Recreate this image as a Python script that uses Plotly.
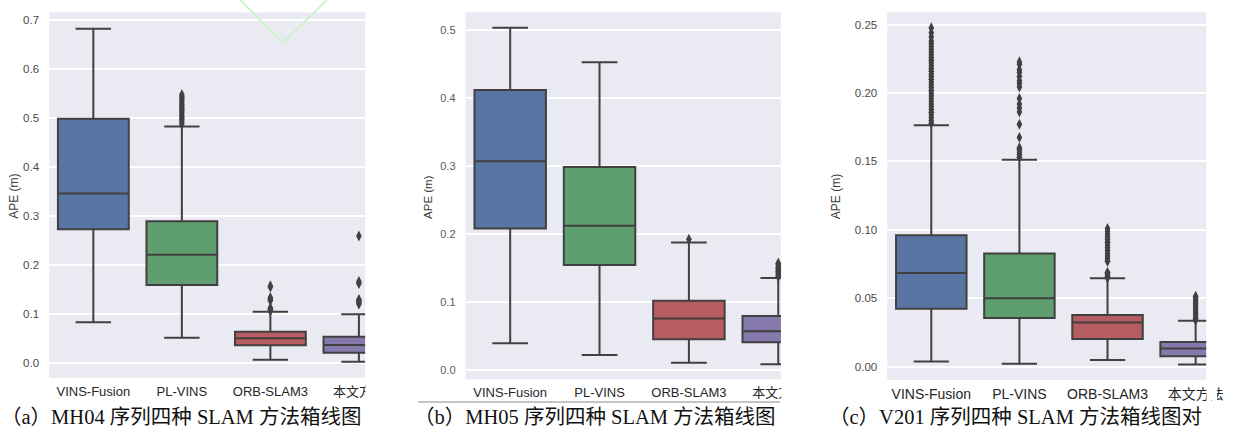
import plotly.graph_objects as go

W, H = 1240, 439

categories = ["VINS-Fusion", "PL-VINS", "ORB-SLAM3", "本文方法"]
colors = ["#5875a4", "#5f9e6e", "#b55d60", "#857aab"]
line_color = "#404040"

# ---------- (a) MH04 ----------
a_q1 = [0.273, 0.159, 0.0355, 0.0204]
a_med = [0.346, 0.2206, 0.0498, 0.036]
a_q3 = [0.499, 0.289, 0.0633, 0.053]
a_lo = [0.0825, 0.051, 0.006, 0.002]
a_hi = [0.683, 0.483, 0.104, 0.0988]
a_out = [
    [],
    [0.488, 0.492, 0.496, 0.500, 0.504, 0.508, 0.512, 0.516, 0.520, 0.524,
     0.528, 0.532, 0.536, 0.540, 0.544, 0.548],
    [0.106, 0.108, 0.110, 0.112, 0.127, 0.130, 0.133, 0.155, 0.157],
    [0.120, 0.122, 0.125, 0.127, 0.129, 0.162, 0.166, 0.259],
]

# ---------- (b) MH05 ----------
b_q1 = [0.208, 0.1544, 0.0453, 0.0408]
b_med = [0.3068, 0.212, 0.0757, 0.057]
b_q3 = [0.4115, 0.2984, 0.1018, 0.0792]
b_lo = [0.0394, 0.0221, 0.0108, 0.0084]
b_hi = [0.503, 0.4524, 0.1873, 0.1352]
b_out = [
    [],
    [],
    [0.192],
    [0.137, 0.139, 0.141, 0.143, 0.145, 0.147, 0.149, 0.151, 0.153, 0.155, 0.157],
]

# ---------- (c) V201 ----------
c_q1 = [0.0424, 0.0356, 0.0202, 0.0076]
c_med = [0.0684, 0.050, 0.0324, 0.0134]
c_q3 = [0.096, 0.0828, 0.0378, 0.018]
c_lo = [0.0039, 0.0022, 0.0049, 0.0017]
c_hi = [0.1765, 0.1512, 0.0646, 0.0336]
c_out = [
    [0.178, 0.180, 0.182, 0.184, 0.186, 0.188, 0.190, 0.192, 0.194, 0.196,
     0.198, 0.200, 0.202, 0.204, 0.206, 0.208, 0.210, 0.212, 0.214, 0.216,
     0.218, 0.220, 0.222, 0.224, 0.226, 0.228, 0.230, 0.232, 0.234, 0.236,
     0.238, 0.241, 0.244, 0.2476],
    [0.153, 0.155, 0.157, 0.159, 0.160, 0.1675, 0.1772, 0.1862, 0.189, 0.192,
     0.196, 0.2045, 0.207, 0.209, 0.212, 0.215, 0.217, 0.221, 0.2227],
    [0.065, 0.066, 0.067, 0.068, 0.069, 0.077, 0.079, 0.081, 0.083, 0.085,
     0.087, 0.089, 0.091, 0.093, 0.095, 0.097, 0.099, 0.101],
    [0.0341, 0.0355, 0.037, 0.0385, 0.040, 0.0415, 0.043, 0.0445, 0.046,
     0.0475, 0.049, 0.0505, 0.0515],
]

captions = ["（a）MH04 序列四种 SLAM 方法箱线图",
            "（b）MH05 序列四种 SLAM 方法箱线图",
            "（c）V201 序列四种 SLAM 方法箱线图对"]
y_title = "APE (m)"

panels = [
    dict(q1=a_q1, med=a_med, q3=a_q3, lo=a_lo, hi=a_hi, out=a_out,
         px=(50, 372), py=(12.3, 378), yr=[-0.0313, 0.7164], dtick=0.1, fmt=".1f",
         xr=[-0.5, 3.07], title_xy=(14, 196), cap_x=184.5, tickcol="#4a4a4a", tfs=11.5, xfs=13,
         ytfs=12),
    dict(q1=b_q1, med=b_med, q3=b_q3, lo=b_lo, hi=b_hi, out=b_out,
         px=(474.3, 795.7), py=(12.3, 379.3), yr=[-0.0137, 0.5257], dtick=0.1, fmt=".1f",
         xr=[-0.5, 3.03], title_xy=(436, 197), cap_x=606.5, tickcol="#5a5a5a", tfs=11, xfs=13,
         ytfs=11.5),
    dict(q1=c_q1, med=c_med, q3=c_q3, lo=c_lo, hi=c_hi, out=c_out,
         px=(904, 1229), py=(12.3, 380), yr=[-0.0097, 0.259], dtick=0.05, fmt=".2f",
         xr=[-0.5, 3.12], title_xy=(852, 197), cap_x=1035, tickcol="#4a4a4a", tfs=11.5, xfs=14,
         ytfs=12),
]

fig = go.Figure()
layout = dict(
    width=W, height=H, margin=dict(l=0, r=0, t=0, b=0),
    paper_bgcolor="white", plot_bgcolor="#eaeaf2", showlegend=False, boxmode="overlay",
    font=dict(family="Liberation Sans, Arial, Noto Sans CJK SC", color="#262626"),
)
annotations = []
shapes = []

for i, p in enumerate(panels):
    sfx = "" if i == 0 else str(i + 1)
    xa, ya = "x" + sfx, "y" + sfx
    for j, cat in enumerate(categories):
        fig.add_trace(go.Box(
            x=[cat], q1=[p["q1"][j]], median=[p["med"][j]], q3=[p["q3"][j]],
            lowerfence=[p["lo"][j]], upperfence=[p["hi"][j]],
            width=0.8, whiskerwidth=0.5, boxpoints=False,
            fillcolor=colors[j], line=dict(color=line_color, width=2),
            xaxis=xa, yaxis=ya, hoverinfo="skip",
        ))
        if p["out"][j]:
            fig.add_trace(go.Scatter(
                x=[cat] * len(p["out"][j]), y=p["out"][j], mode="markers",
                marker=dict(symbol="diamond-tall", size=8, color=line_color,
                            line=dict(width=0)),
                xaxis=xa, yaxis=ya, hoverinfo="skip", cliponaxis=False,
            ))
    x0, x1 = p["px"]
    y0, y1 = p["py"]
    layout["xaxis" + sfx] = dict(
        domain=[x0 / W, x1 / W], anchor=ya, type="category",
        categoryorder="array", categoryarray=categories, range=p["xr"],
        showgrid=False, zeroline=False, showline=False, ticks="",
        tickfont=dict(size=p["xfs"], color="#262626"), ticklabelstandoff=4,
        ticklabeloverflow="allow",
    )
    layout["yaxis" + sfx] = dict(
        domain=[1 - y1 / H, 1 - y0 / H], anchor=xa, range=p["yr"],
        dtick=p["dtick"], tick0=0, tickformat=p["fmt"],
        showgrid=True, gridcolor="white", gridwidth=1.5, zeroline=False,
        showline=False, ticks="", ticklabelstandoff=9,
        tickfont=dict(size=p["tfs"], color=p["tickcol"]),
    )
    # crop mask right of plot (tick label overflow)
    shapes.append(dict(type="rect", xref="paper", yref="paper",
                       x0=(x1 + 0.3) / W, x1=min(x1 + 30, W) / W,
                       y0=1 - 400 / H, y1=1 - (y1 - 2) / H,
                       fillcolor="white", line=dict(width=0), layer="above"))
    tx, ty = p["title_xy"]
    annotations.append(dict(x=tx / W, y=1 - ty / H, xref="paper", yref="paper",
                            text=y_title, textangle=-90, showarrow=False,
                            font=dict(size=p["ytfs"], color="#3a3a3a"),
                            xanchor="center", yanchor="middle"))
    annotations.append(dict(x=p["cap_x"] / W, y=1 - 417 / H, xref="paper", yref="paper",
                            text=captions[i], showarrow=False,
                            font=dict(size=20.5, color="#111111",
                                      family="Liberation Serif, Times New Roman, Noto Sans CJK SC"),
                            xanchor="center", yanchor="middle"))

# separator line under panel (b)
shapes.append(dict(type="line", xref="paper", yref="paper",
                   x0=426 / W, x1=795 / W, y0=1 - 402 / H, y1=1 - 402 / H,
                   line=dict(color="#8a8a8a", width=1)))
# light green artefact at top of panel (a)
shapes.append(dict(type="path", xref="paper", yref="paper",
                   path=f"M {245/W} {1.0} L {288/W} {1-43/H} L {333/W} {1.0}",
                   line=dict(color="#cdf3cd", width=2)))

layout["annotations"] = annotations
layout["shapes"] = shapes
fig.update_layout(**layout)
fig.write_html(
    "out.html",
    post_script="document.body.style.margin='0';document.body.style.padding='0';"
                "document.documentElement.style.overflow='hidden';",
)
